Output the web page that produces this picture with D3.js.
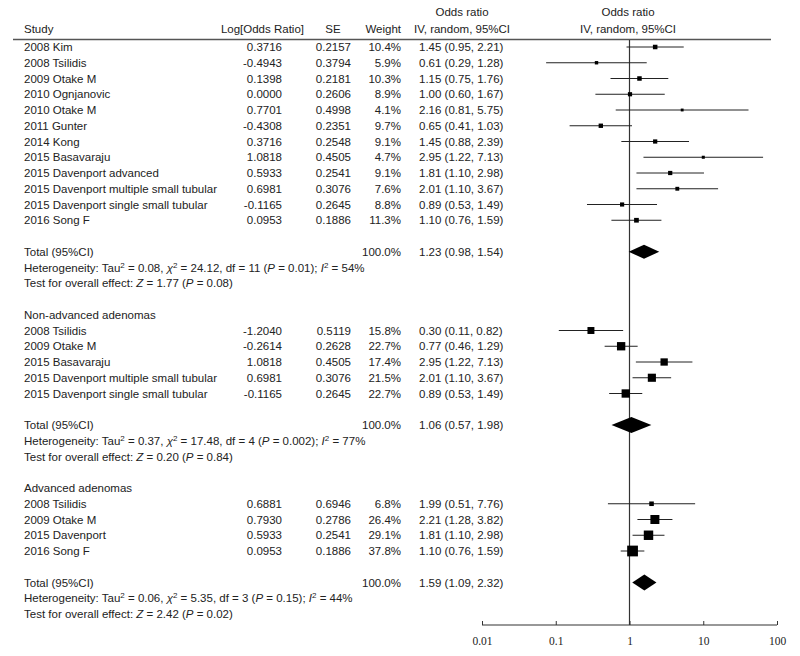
<!DOCTYPE html>
<html>
<head>
<meta charset="utf-8">
<script src="https://cdn.jsdelivr.net/npm/d3@7"></script>
<style>
  body { margin: 0; background: #fff; }
  svg { display: block; }
  text { font-family: "Liberation Sans", Arial, sans-serif; font-size: 11.5px; fill: #222; }
  .axis text { font-family: "Liberation Serif", serif; font-size: 11.5px; }
</style>
</head>
<body>
<script>
// all studies
const names1 = ['2008 Kim', '2008 Tsilidis', '2009 Otake M', '2010 Ognjanovic', '2010 Otake M', '2011 Gunter', '2014 Kong', '2015 Basavaraju', '2015 Davenport advanced', '2015 Davenport multiple small tubular', '2015 Davenport single small tubular', '2016 Song F']
const logOR1 = [0.3716, -0.4943, 0.1398, 0.0000, 0.7701, -0.4308, 0.3716, 1.0818, 0.5933, 0.6981, -0.1165, 0.0953]
const se1 = [0.2157, 0.3794, 0.2181, 0.2606, 0.4998, 0.2351, 0.2548, 0.4505, 0.2541, 0.3076, 0.2645, 0.1886]
const weight1 = [10.4, 5.9, 10.3, 8.9, 4.1, 9.7, 9.1, 4.7, 9.1, 7.6, 8.8, 11.3]
const or1 = [1.45, 0.61, 1.15, 1.00, 2.16, 0.65, 1.45, 2.95, 1.81, 2.01, 0.89, 1.10]
const lo1 = [0.95, 0.29, 0.75, 0.60, 0.81, 0.41, 0.88, 1.22, 1.10, 1.10, 0.53, 0.76]
const hi1 = [2.21, 1.28, 1.76, 1.67, 5.75, 1.03, 2.39, 7.13, 2.98, 3.67, 1.49, 1.59]

// non-advanced adenomas
const names2 = ['2008 Tsilidis', '2009 Otake M', '2015 Basavaraju', '2015 Davenport multiple small tubular', '2015 Davenport single small tubular']
const logOR2 = [-1.2040, -0.2614, 1.0818, 0.6981, -0.1165]
const se2 = [0.5119, 0.2628, 0.4505, 0.3076, 0.2645]
const weight2 = [15.8, 22.7, 17.4, 21.5, 22.7]
const or2 = [0.30, 0.77, 2.95, 2.01, 0.89]
const lo2 = [0.11, 0.46, 1.22, 1.10, 0.53]
const hi2 = [0.82, 1.29, 7.13, 3.67, 1.49]

// advanced adenomas
const names3 = ['2008 Tsilidis', '2009 Otake M', '2015 Davenport', '2016 Song F']
const logOR3 = [0.6881, 0.7930, 0.5933, 0.0953]
const se3 = [0.6946, 0.2786, 0.2541, 0.1886]
const weight3 = [6.8, 26.4, 29.1, 37.8]
const or3 = [1.99, 2.21, 1.81, 1.10]
const lo3 = [0.51, 1.28, 1.10, 0.76]
const hi3 = [7.76, 3.82, 2.98, 1.59]

// pooled results, one per block
const groupTitles = [null, 'Non-advanced adenomas', 'Advanced adenomas']
const totalOR = [1.23, 1.06, 1.59]
const totalLo = [0.98, 0.57, 1.09]
const totalHi = [1.54, 1.98, 2.32]
const tau2 = ['0.08', '0.37', '0.06']
const chi2 = ['24.12', '17.48', '5.35']
const dfs = [11, 4, 3]
const pHet = ['0.01', '0.002', '0.15']
const i2 = [54, 77, 44]
const zVal = ['1.77', '0.20', '2.42']
const pZ = ['0.08', '0.84', '0.02']

const axisTicks = [0.01, 0.1, 1, 10, 100]

const width = 800, height = 656
const svg = d3.select('body').append('svg').attr('width', width).attr('height', height)

// the axis scale; the top block was pasted from a plot with a wider scale
const xScale = d3.scaleLog().domain([0.01, 100]).range([482, 777])
const xTop = d3.scaleLog().domain([0.1, 10]).range([474, 786])
const boxTop = d3.scaleSqrt().domain([0, 100]).range([0, 14])
const boxSub = d3.scaleSqrt().domain([0, 100]).range([0, 17.5])
const yRow = d3.scaleLinear().domain([0, 36]).range([47, 614])

const fmt = d => d.toFixed(2)
const ciText = (o, l, h) => `${fmt(o)} (${fmt(l)}, ${fmt(h)})`

const groups = [
    { names: names1, logOR: logOR1, se: se1, w: weight1, or: or1, lo: lo1, hi: hi1, x: xTop, box: boxTop, half: 7 },
    { names: names2, logOR: logOR2, se: se2, w: weight2, or: or2, lo: lo2, hi: hi2, x: xScale, box: boxSub, half: 8 },
    { names: names3, logOR: logOR3, se: se3, w: weight3, or: or3, lo: lo3, hi: hi3, x: xScale, box: boxSub, half: 8 }
]

// header
svg.append('text').attr('x', 462).attr('y', 16).attr('text-anchor', 'middle').text('Odds ratio')
svg.append('text').attr('x', 628).attr('y', 16).attr('text-anchor', 'middle').text('Odds ratio')
svg.append('text').attr('x', 24).attr('y', 33).text('Study')
svg.append('text').attr('x', 304).attr('y', 33).attr('text-anchor', 'end').text('Log[Odds Ratio]')
svg.append('text').attr('x', 333).attr('y', 33).attr('text-anchor', 'middle').text('SE')
svg.append('text').attr('x', 401).attr('y', 33).attr('text-anchor', 'end').text('Weight')
svg.append('text').attr('x', 462).attr('y', 33).attr('text-anchor', 'middle').text('IV, random, 95%CI')
svg.append('text').attr('x', 628).attr('y', 33).attr('text-anchor', 'middle').text('IV, random, 95%CI')
svg.append('line').attr('x1', 13).attr('x2', 771).attr('y1', 39.5).attr('y2', 39.5)
    .attr('stroke', '#555').attr('stroke-width', 1.5)

// line of no effect
svg.append('line').attr('x1', xScale(1)).attr('x2', xScale(1)).attr('y1', 40).attr('y2', 625)
    .attr('stroke', '#333').attr('stroke-width', 1.2)

let row = 0
groups.forEach((g, gi) => {
    if (groupTitles[gi]) {
        svg.append('text').attr('x', 24).attr('y', yRow(row) + 4).text(groupTitles[gi])
        row += 1
    }
    const startRow = row
    const data = g.names.map((n, i) => ({ name: n, logOR: g.logOR[i], se: g.se[i], w: g.w[i], or: g.or[i], lo: g.lo[i], hi: g.hi[i], y: yRow(startRow + i) }))
    const grp = svg.append('g')
    const rows = grp.selectAll('g.row').data(data).enter().append('g').attr('class', 'row')
    rows.append('text').attr('x', 24).attr('y', d => d.y + 4).text(d => d.name)
    rows.append('text').attr('x', 282).attr('y', d => d.y + 4).attr('text-anchor', 'end').text(d => d.logOR.toFixed(4))
    rows.append('text').attr('x', 351).attr('y', d => d.y + 4).attr('text-anchor', 'end').text(d => d.se.toFixed(4))
    rows.append('text').attr('x', 401).attr('y', d => d.y + 4).attr('text-anchor', 'end').text(d => d.w.toFixed(1) + '%')
    rows.append('text').attr('x', 419).attr('y', d => d.y + 4).text(d => ciText(d.or, d.lo, d.hi))
    rows.append('line')
        .attr('x1', d => g.x(d.lo)).attr('x2', d => g.x(d.hi))
        .attr('y1', d => d.y).attr('y2', d => d.y)
        .attr('stroke', '#222').attr('stroke-width', 1)
    rows.append('rect')
        .attr('x', d => g.x(d.or) - g.box(d.w) / 2)
        .attr('y', d => d.y - g.box(d.w) / 2)
        .attr('width', d => g.box(d.w))
        .attr('height', d => g.box(d.w))
        .attr('fill', '#000')
    row += g.names.length + 1

    // pooled estimate
    const yT = yRow(row)
    svg.append('text').attr('x', 24).attr('y', yT + 4).text('Total (95%CI)')
    svg.append('text').attr('x', 401).attr('y', yT + 4).attr('text-anchor', 'end').text('100.0%')
    svg.append('text').attr('x', 419).attr('y', yT + 4).text(ciText(totalOR[gi], totalLo[gi], totalHi[gi]))
    const dx = [g.x(totalLo[gi]), g.x(totalOR[gi]), g.x(totalHi[gi])]
    svg.append('path')
        .attr('d', `M${dx[0]},${yT} L${dx[1]},${yT - g.half} L${dx[2]},${yT} L${dx[1]},${yT + g.half} Z`)
        .attr('fill', '#000')

    const het = svg.append('text').attr('x', 24).attr('y', yRow(row + 1) + 4)
    het.append('tspan').text('Heterogeneity: Tau')
    het.append('tspan').attr('dy', -4).attr('font-size', 8).text('2')
    het.append('tspan').attr('dy', 4).text(` = ${tau2[gi]}, `)
    het.append('tspan').attr('font-style', 'italic').text('\u03c7')
    het.append('tspan').attr('dy', -4).attr('font-size', 8).text('2')
    het.append('tspan').attr('dy', 4).text(` = ${chi2[gi]}, df = ${dfs[gi]} (`)
    het.append('tspan').attr('font-style', 'italic').text('P')
    het.append('tspan').text(` = ${pHet[gi]}); `)
    het.append('tspan').attr('font-style', 'italic').text('I')
    het.append('tspan').attr('dy', -4).attr('font-size', 8).text('2')
    het.append('tspan').attr('dy', 4).text(` = ${i2[gi]}%`)

    const test = svg.append('text').attr('x', 24).attr('y', yRow(row + 2) + 4)
    test.append('tspan').text('Test for overall effect: ')
    test.append('tspan').attr('font-style', 'italic').text('Z')
    test.append('tspan').text(` = ${zVal[gi]} (`)
    test.append('tspan').attr('font-style', 'italic').text('P')
    test.append('tspan').text(` = ${pZ[gi]})`)
    row += 4
})

// bottom axis, ticks pointing up
const axis = d3.axisBottom(xScale).tickValues(axisTicks).tickSize(-4).tickPadding(12)
    .tickFormat(d => String(d))
const axisG = svg.append('g').attr('class', 'axis').attr('transform', 'translate(0,625)').call(axis)
axisG.select('.domain').attr('d', `M${xScale(0.01)},0H${xScale(100)}`).attr('stroke', '#333').attr('stroke-width', 1.2)
axisG.selectAll('.tick line').attr('stroke', '#333')
axisG.selectAll('.tick text').attr('fill', '#222')
</script>
</body>
</html>
